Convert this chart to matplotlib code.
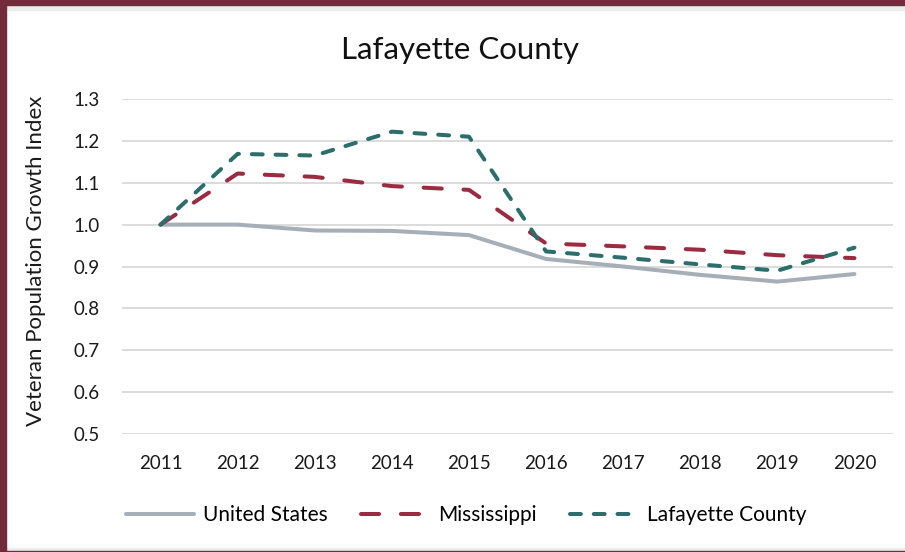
import numpy as np
import matplotlib
matplotlib.use("Agg")
import matplotlib.pyplot as plt
from matplotlib.patches import Rectangle

plt.rcParams['font.family'] = ['Lato', 'DejaVu Sans']

years = [2011, 2012, 2013, 2014, 2015, 2016, 2017, 2018, 2019, 2020]
united_states = [1.000, 1.000, 0.986, 0.985, 0.975, 0.918, 0.900, 0.880, 0.864, 0.882]
mississippi = [1.000, 1.122, 1.114, 1.092, 1.083, 0.955, 0.948, 0.940, 0.927, 0.920]
lafayette = [1.000, 1.169, 1.165, 1.222, 1.210, 0.936, 0.921, 0.905, 0.890, 0.945]
yticks = [0.5, 0.6, 0.7, 0.8, 0.9, 1.0, 1.1, 1.2, 1.3]

maroon = '#722b3b'
c_us = '#a6aeb7'
c_ms = '#9a2b40'
c_lc = '#2b6e6c'
lw = 2.9

fig = plt.figure(figsize=(9.05, 5.52), dpi=100)
ax = fig.add_axes([122 / 905, 1 - 434 / 552, 771 / 905, 335 / 552])

ax.plot(years, united_states, color=c_us, lw=lw, solid_capstyle='round',
        solid_joinstyle='round', label='United States')
ax.plot(years, mississippi, color=c_ms, lw=lw, dashes=(4.5, 5.4),
        dash_capstyle='round', label='Mississippi')
ax.plot(years, lafayette, color=c_lc, lw=lw, dashes=(2.7, 3.2),
        dash_capstyle='round', label='Lafayette County')

ax.set_xlim(2010.5, 2020.5)
ax.set_ylim(0.5, 1.3)
ax.set_xticks(years)
ax.set_xticklabels([str(y) for y in years])
ax.set_yticks(yticks)
ax.set_yticklabels(['%.1f' % v for v in yticks])
ax.grid(axis='y', color='#d9d9d9', lw=1.3)
ax.set_axisbelow(True)
for s in ax.spines.values():
    s.set_visible(False)
ax.tick_params(length=0, labelsize=13.5, colors='#1a1a1a')
ax.tick_params(axis='x', pad=15)
ax.tick_params(axis='y', pad=16)

fig.text(36 / 905, 1 - 261 / 552, 'Veteran Population Growth Index',
         rotation=90, ha='center', va='center', fontsize=16, color='#1a1a1a')
fig.text(460 / 905, 1 - 50 / 552, 'Lafayette County', ha='center', va='center',
         fontsize=22.5, color='#111111')

fig.legend(loc='center', bbox_to_anchor=(466 / 905, 1 - 515 / 552), ncol=3,
           frameon=False, fontsize=15, handlelength=3.3, columnspacing=1.6,
           handletextpad=0.4)

# frame around the chart
fig.patches.append(Rectangle((0, 1 - 10 / 552), 1, 5 / 552, transform=fig.transFigure,
                             color='#ececec', zorder=0))
fig.patches.append(Rectangle((0, 1 - 5 / 552), 1, 5 / 552, transform=fig.transFigure,
                             color=maroon, zorder=1))
fig.patches.append(Rectangle((0, 0), 6 / 905, 1, transform=fig.transFigure,
                             color=maroon, zorder=1))
fig.patches.append(Rectangle((0, 1 / 552), 1, 3 / 552, transform=fig.transFigure,
                             color='#ececec', zorder=0))
fig.patches.append(Rectangle((0, 0), 1, 1.5 / 552, transform=fig.transFigure,
                             color=maroon, zorder=1))

fig.savefig('out.png', dpi=100)
